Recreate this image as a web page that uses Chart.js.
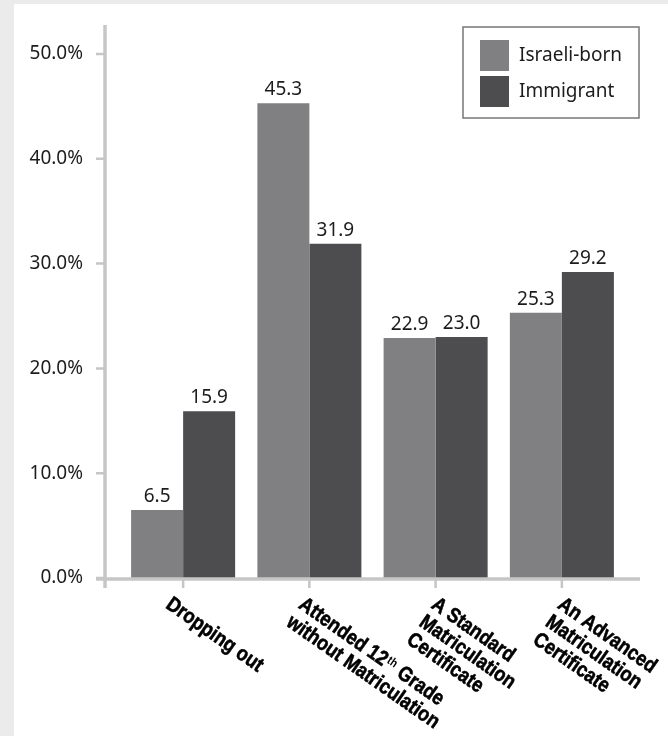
<!DOCTYPE html>
<html>
<head>
<meta charset="utf-8">
<script src="https://cdn.jsdelivr.net/npm/chart.js@4.4.1/dist/chart.umd.min.js"></script>
<style>
  html, body { margin: 0; padding: 0; background: #ebebeb; }
  #panel { position: absolute; left: 14px; top: 4px; width: 654px; height: 732px; background: #fff; }
  canvas { display: block; }
</style>
</head>
<body>
<div id="panel"><canvas id="chart" width="654" height="732"></canvas></div>
<script>
// category labels, one entry per line; {..} marks superscript
const categories = [
    ['Dropping out'],
    ['Attended 12{th} Grade', 'without Matriculation'],
    ['A Standard', 'Matriculation', 'Certificate'],
    ['An Advanced', 'Matriculation', 'Certificate']
];
const israeliBorn = [6.5, 45.3, 22.9, 25.3];
const immigrant = [15.9, 31.9, 23.0, 29.2];
const yTicks = [0, 10, 20, 30, 40, 50];
const seriesNames = ['Israeli-born', 'Immigrant'];
const seriesColors = ['#808083', '#4d4d4f'];

const TEXT = '#1c1c1c';
const AXIS = '#c6c6c6';
const REGULAR = '"Noto Sans", sans-serif';
// Arial-metric bold squeezed horizontally to imitate a narrow face
const LABEL_FONT = 'bold 21px "Liberation Sans", Arial, sans-serif';
const SUP_FONT = 'bold 12px "Liberation Sans", Arial, sans-serif';
const SQUEEZE = 0.86;

function drawRich(ctx, text, x, y) {
    const parts = text.split(/(\{[^}]*\})/).filter(p => p.length);
    let cx = x;
    parts.forEach(p => {
        if (p.startsWith('{')) {
            const s = p.slice(1, -1);
            ctx.font = SUP_FONT;
            ctx.fillText(s, cx + 1, y + 1);
            cx += ctx.measureText(s).width + 2;
        } else {
            ctx.font = LABEL_FONT;
            ctx.fillText(p, cx, y);
            ctx.strokeText(p, cx, y);
            cx += ctx.measureText(p).width;
        }
    });
}

// axis lines and tick marks
const axisLines = {
    id: 'axisLines',
    afterDatasetsDraw(chart) {
        const {ctx, chartArea: a, scales: {x, y}} = chart;
        const ax = a.left - 15;
        ctx.save();
        ctx.strokeStyle = AXIS;
        ctx.lineWidth = 3.5;
        ctx.beginPath();
        ctx.moveTo(ax, a.top - 29);
        ctx.lineTo(ax, a.bottom + 10);
        ctx.moveTo(ax - 9, a.bottom + 1);
        ctx.lineTo(a.right + 15, a.bottom + 1);
        ctx.stroke();
        ctx.lineWidth = 2.5;
        ctx.beginPath();
        yTicks.forEach(v => {
            const py = y.getPixelForValue(v);
            ctx.moveTo(ax - 9, py);
            ctx.lineTo(ax, py);
        });
        categories.forEach((c, i) => {
            const px = x.getPixelForValue(i);
            ctx.moveTo(px, a.bottom);
            ctx.lineTo(px, a.bottom + 10);
        });
        ctx.stroke();
        ctx.restore();
    }
};

// values above bars, slanted category labels, boxed legend
const annotations = {
    id: 'annotations',
    afterDraw(chart) {
        const {ctx, chartArea: a, scales: {x}} = chart;
        ctx.save();
        ctx.fillStyle = TEXT;
        ctx.font = '19px ' + REGULAR;
        ctx.textAlign = 'center';
        ctx.textBaseline = 'alphabetic';
        chart.data.datasets.forEach((ds, di) => {
            chart.getDatasetMeta(di).data.forEach((bar, i) => {
                ctx.fillText(ds.data[i].toFixed(1), bar.x, bar.y - 8);
            });
        });

        ctx.fillStyle = '#000';
        ctx.strokeStyle = '#000';
        ctx.lineWidth = 0.6;
        ctx.textAlign = 'left';
        ctx.textBaseline = 'top';
        const ang = 35 * Math.PI / 180;
        categories.forEach((lines, i) => {
            const px = x.getPixelForValue(i) - 9 + 6.5 * (lines.length - 1);
            const py = a.bottom + 16;
            ctx.save();
            ctx.translate(px, py);
            ctx.rotate(ang);
            ctx.scale(SQUEEZE, 1);
            lines.forEach((ln, j) => drawRich(ctx, ln, 0, j * 21.5));
            ctx.restore();
        });

        const x0 = a.right - 162, y0 = a.top - 27;
        ctx.strokeStyle = '#777';
        ctx.lineWidth = 1.5;
        ctx.strokeRect(x0, y0, 176, 91);
        ctx.font = '19px ' + REGULAR;
        ctx.textBaseline = 'middle';
        chart.data.datasets.forEach((ds, di) => {
            ctx.fillStyle = ds.backgroundColor;
            ctx.fillRect(x0 + 17, y0 + 13 + di * 36, 29, 31);
            ctx.fillStyle = TEXT;
            ctx.fillText(ds.label, x0 + 56, y0 + 29 + di * 36);
        });
        ctx.restore();
    }
};

new Chart(document.getElementById('chart'), {
    type: 'bar',
    data: {
        labels: categories.map(c => c.join(' ')),
        datasets: [
            {label: seriesNames[0], data: israeliBorn, backgroundColor: seriesColors[0],
             categoryPercentage: 0.824, barPercentage: 1},
            {label: seriesNames[1], data: immigrant, backgroundColor: seriesColors[1],
             categoryPercentage: 0.824, barPercentage: 1}
        ]
    },
    options: {
        responsive: false,
        animation: false,
        layout: {padding: {top: 50, right: 43, bottom: 158, left: 0}},
        plugins: {legend: {display: false}, tooltip: {enabled: false}},
        scales: {
            x: {
                grid: {display: false},
                border: {display: false},
                ticks: {display: false},
                afterFit: s => { s.height = 0; }
            },
            y: {
                min: 0,
                max: 50,
                grid: {display: false, drawTicks: false},
                border: {display: false},
                afterBuildTicks: s => { s.ticks = yTicks.map(v => ({value: v})); },
                ticks: {
                    padding: 37,
                    color: TEXT,
                    font: {family: 'Noto Sans', size: 19},
                    callback: v => v.toFixed(1) + '%'
                },
                afterFit: s => { s.width = 106; }
            }
        }
    },
    plugins: [axisLines, annotations]
});
</script>
</body>
</html>
